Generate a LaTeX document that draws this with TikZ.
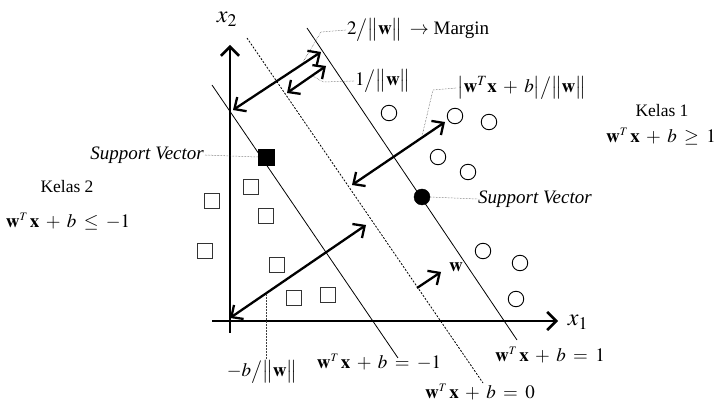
\documentclass[tikz,border=0pt]{standalone}
\usepackage{mathptmx}
\usepackage{fontspec}
\setmainfont{Liberation Serif}
\usetikzlibrary{arrows.meta}
\newcommand{\wspace}{\medmuskip=6mu plus 2mu\thickmuskip=7mu plus 2mu}
\begin{document}
\begin{tikzpicture}[x=1pt,y=-1pt,
  axisline/.style={line width=2.6pt,-{Straight Barb[length=9pt,width=18pt]}},
  dblarrow/.style={line width=2.3pt,{Straight Barb[length=9pt,width=17pt]}-{Straight Barb[length=9pt,width=17pt]}},
  onearrow/.style={line width=2.3pt,-{Straight Barb[length=9pt,width=17pt]}},
  plane/.style={line width=0.8pt},
  midplane/.style={line width=0.8pt,dash pattern=on 2pt off 1.5pt},
  leader/.style={line width=0.5pt,densely dotted,black!75},
  sq/.style={draw=black!80,line width=0.9pt,minimum size=15pt,inner sep=0pt},
  fsq/.style={draw,fill=black,minimum size=16pt,inner sep=0pt},
  circ/.style={circle,draw,line width=0.9pt,minimum size=15.5pt,inner sep=0pt},
  fcirc/.style={circle,draw,fill=black,minimum size=16pt,inner sep=0pt},
  txt/.style={inner sep=1pt,font=\fontsize{17.5}{20}\selectfont},
  mtxt/.style={inner sep=1pt,font=\fontsize{19}{21}\selectfont\wspace},
  itxt/.style={inner sep=1pt,font=\fontsize{19}{21}\selectfont\itshape},
  axlabel/.style={inner sep=0pt,font=\fontsize{24}{26}\selectfont}
]
\useasboundingbox (0,0) rectangle (716,403);

% axes
\coordinate (yb) at (230,333);
\coordinate (yt) at (230,45);
\coordinate (xl) at (212,321);
\coordinate (xr) at (558,321);
\draw[axisline] (yb) -- (yt);
\draw[axisline] (xl) -- (xr);
\node[axlabel] (x2) at (227,19) {$x_2$};
\node[axlabel] (x1) at (578,322) {$x_1$};

% hyperplanes
\coordinate (p1a) at (212,85);
\coordinate (p1b) at (398,358);
\coordinate (p0a) at (247,38);
\coordinate (p0b) at (483,383);
\coordinate (p3a) at (307,28);
\coordinate (p3b) at (517,340);
\draw[plane] (p1a) -- (p1b);
\draw[midplane] (p0a) -- (p0b);
\draw[plane] (p3a) -- (p3b);

% class 2 points
\node[sq] (s1) at (251,187) {};
\node[sq] (s2) at (212,201) {};
\node[sq] (s3) at (266,216) {};
\node[sq] (s4) at (205,251) {};
\node[sq] (s5) at (277,265) {};
\node[sq] (s6) at (294,298) {};
\node[sq] (s7) at (328,295) {};
\node[fsq] (sv2) at (266,157) {};

% class 1 points
\node[circ] (c1) at (389,113) {};
\node[circ] (c2) at (455,116) {};
\node[circ] (c3) at (489,122) {};
\node[circ] (c4) at (438,157) {};
\node[circ] (c5) at (468,172) {};
\node[circ] (c6) at (483,251) {};
\node[circ] (c7) at (520,263) {};
\node[circ] (c8) at (516,299) {};
\node[fcirc] (sv1) at (422,197) {};

% arrows
\coordinate (ma) at (233,110);
\coordinate (mb) at (321,52);
\draw[dblarrow] (ma) -- (mb);
\coordinate (ha) at (287,93);
\coordinate (hb) at (326,66);
\draw[dblarrow] (ha) -- (hb);
\coordinate (da) at (352,185);
\coordinate (db) at (445,122);
\draw[dblarrow] (da) -- (db);
\coordinate (oa) at (230,318);
\coordinate (ob) at (366,225);
\draw[dblarrow] (oa) -- (ob);
\coordinate (wa) at (417,288);
\coordinate (wb) at (441,272);
\draw[onearrow] (wa) -- (wb);
\node[mtxt] (wl) at (456,267) {$\mathbf{w}$};

% labels with leaders
\node[mtxt,anchor=west] (lm) at (346,30) {$2\big/\big\|\mathbf{w}\big\|\rightarrow$ Margin};
\coordinate (lm1) at (321,32);
\coordinate (lm2) at (303,62);
\draw[leader] (lm.west) -- (lm1) -- (lm2);

\node[mtxt,anchor=west] (lh) at (354,81) {$1\big/\big\|\mathbf{w}\big\|$};
\coordinate (lh1) at (323,82);
\coordinate (lh2) at (313,76);
\draw[leader] (lh.west) -- (lh1) -- (lh2);

\node[mtxt,anchor=west] (ld) at (456,88) {$\big|\mathbf{w}^{T}\mathbf{x}+b\big|\big/\big\|\mathbf{w}\big\|$};
\coordinate (ld1) at (433,90);
\coordinate (ld2) at (422,136);
\draw[leader] (ld.west) -- (ld1) -- (ld2);

\node[itxt,anchor=east] (lsv2) at (205,155) {Support Vector};
\draw[leader] (lsv2.east) -- (sv2.west);

\node[itxt,anchor=west] (lsv1) at (477,199) {Support Vector};
\draw[leader] (sv1.east) -- (lsv1.west);

\coordinate (bt) at (266,294);
\node[mtxt] (lb) at (262,372) {$-b\big/\big\|\mathbf{w}\big\|$};
\draw[leader] (bt) -- (lb.north -| bt);

% class labels
\node[txt] (k2) at (67,187) {Kelas 2};
\node[mtxt] (e2) at (68,222) {$\mathbf{w}^{\scriptscriptstyle T}\,\mathbf{x}+b\le -1$};
\node[txt] (k1) at (662,111) {Kelas 1};
\node[mtxt] (e1) at (661,137) {$\mathbf{w}^{\scriptscriptstyle T}\,\mathbf{x}+b\ge 1$};

% hyperplane equations
\node[mtxt] (q1) at (379,362) {$\mathbf{w}^{\scriptscriptstyle T}\,\mathbf{x}+b=-1$};
\node[mtxt] (q0) at (480,392) {$\mathbf{w}^{\scriptscriptstyle T}\,\mathbf{x}+b=0$};
\node[mtxt] (q3) at (550,355) {$\mathbf{w}^{\scriptscriptstyle T}\,\mathbf{x}+b=1$};
\end{tikzpicture}
\end{document}
